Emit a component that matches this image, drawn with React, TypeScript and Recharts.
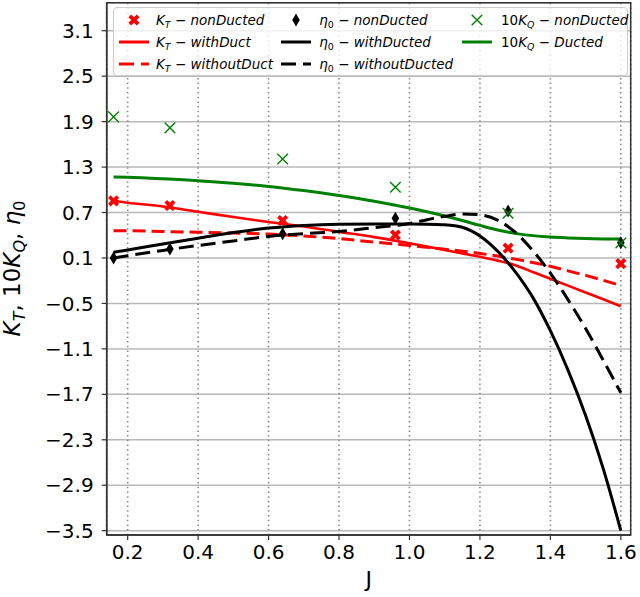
import React from "react";
import {
  ComposedChart,
  Line,
  Scatter,
  XAxis,
  YAxis,
  CartesianGrid,
  ReferenceArea,
  Label,
} from "recharts";

// ---------- data ----------
const J_CURVE = [0.16, 0.2, 0.3, 0.4, 0.5, 0.6, 0.7, 0.8, 0.9, 1.0, 1.05, 1.1, 1.15, 1.2, 1.25, 1.3, 1.35, 1.4, 1.45, 1.5, 1.55, 1.6];
const KT_WITH_DUCT = [0.855, 0.83, 0.78, 0.71, 0.64, 0.575, 0.515, 0.445, 0.375, 0.295, 0.25, 0.205, 0.16, 0.115, 0.065, 0.005, -0.085, -0.175, -0.265, -0.355, -0.445, -0.537];
const KT_WITHOUT_DUCT = [0.46, 0.46, 0.45, 0.44, 0.43, 0.415, 0.39, 0.355, 0.31, 0.265, 0.24, 0.215, 0.19, 0.16, 0.125, 0.085, 0.04, -0.01, -0.07, -0.13, -0.195, -0.265];
const ETA_WITH_DUCT = [0.175, 0.205, 0.285, 0.36, 0.435, 0.495, 0.53, 0.545, 0.548, 0.548, 0.546, 0.538, 0.505, 0.39, 0.19, -0.08, -0.42, -0.86, -1.38, -1.98, -2.68, -3.5];
const ETA_WITHOUT_DUCT = [0.1, 0.13, 0.2, 0.265, 0.325, 0.385, 0.42, 0.45, 0.5, 0.555, 0.605, 0.65, 0.68, 0.67, 0.6, 0.44, 0.2, -0.1, -0.45, -0.83, -1.25, -1.68];
const KQ10_DUCTED = [1.17, 1.165, 1.145, 1.12, 1.085, 1.045, 0.99, 0.925, 0.85, 0.76, 0.71, 0.655, 0.595, 0.53, 0.47, 0.425, 0.395, 0.376, 0.365, 0.357, 0.352, 0.35];

const J_EXP = [0.16, 0.32, 0.64, 0.96, 1.28, 1.6];
const KT_NON_DUCTED = [0.854, 0.792, 0.595, 0.403, 0.23, 0.025];
const ETA_NON_DUCTED = [0.1, 0.218, 0.42, 0.626, 0.72, 0.3];
const KQ10_NON_DUCTED = [1.963, 1.818, 1.407, 1.034, 0.69, 0.297];

const X_TICKS = [0.2, 0.4, 0.6, 0.8, 1.0, 1.2, 1.4, 1.6];
const Y_TICKS = [-3.5, -2.9, -2.3, -1.7, -1.1, -0.5, 0.1, 0.7, 1.3, 1.9, 2.5, 3.1];
const X_MIN = 0.1405;
const X_MAX = 1.628;
const Y_MIN = -3.557;
const Y_MAX = 3.47;

const toRows = (xs: number[], ys: number[]) => xs.map((J, i) => ({ J, v: ys[i] }));

const ktWith = toRows(J_CURVE, KT_WITH_DUCT);
const ktWithout = toRows(J_CURVE, KT_WITHOUT_DUCT);
const etaWith = toRows(J_CURVE, ETA_WITH_DUCT);
const etaWithout = toRows(J_CURVE, ETA_WITHOUT_DUCT);
const kqDucted = toRows(J_CURVE, KQ10_DUCTED);
const ktNon = toRows(J_EXP, KT_NON_DUCTED);
const etaNon = toRows(J_EXP, ETA_NON_DUCTED);
const kqNon = toRows(J_EXP, KQ10_NON_DUCTED);

const RED = "#ff0000";
const GREEN = "#008000";
const BLACK = "#000000";
const FONT = "'DejaVu Sans', sans-serif";

// ---------- marker shapes ----------
const xPath = (cx: number, cy: number, s: number, w: number) => {
  const a = w * 0.7071;
  const P: [number, number][] = [
    [0, -2 * a],
    [s - a, -s - a],
    [s + a, -s + a],
    [2 * a, 0],
    [s + a, s - a],
    [s - a, s + a],
    [0, 2 * a],
    [-s + a, s + a],
    [-s - a, s - a],
    [-2 * a, 0],
    [-s - a, -s + a],
    [-s + a, -s - a],
  ];
  return "M" + P.map(([x, y]) => `${(cx + x).toFixed(2)},${(cy + y).toFixed(2)}`).join("L") + "Z";
};

const RedX = (props: any) => {
  const { cx, cy } = props;
  if (cx == null || cy == null) return null;
  return <path d={xPath(cx, cy, 4.2, 1.9)} fill={RED} stroke="none" />;
};

const Diamond = (props: any) => {
  const { cx, cy } = props;
  if (cx == null || cy == null) return null;
  const hw = 3.8;
  const hh = 6.5;
  return <path d={`M${cx},${cy - hh}L${cx + hw},${cy}L${cx},${cy + hh}L${cx - hw},${cy}Z`} fill={BLACK} />;
};

const GreenX = (props: any) => {
  const { cx, cy } = props;
  if (cx == null || cy == null) return null;
  const s = 5.3;
  return (
    <path
      d={`M${cx - s},${cy - s}L${cx + s},${cy + s}M${cx - s},${cy + s}L${cx + s},${cy - s}`}
      stroke={GREEN}
      strokeWidth={1.4}
      fill="none"
    />
  );
};

const fmtTick = (v: number) => v.toFixed(1).replace("-", "\u2212");

// ---------- legend ----------
const Sub = ({ children, upright }: { children: React.ReactNode; upright?: boolean }) => (
  <span style={{ fontSize: "70%", position: "relative", top: "0.3em", fontStyle: upright ? "normal" : "italic" }}>{children}</span>
);

const Handle = ({ kind, color }: { kind: string; color: string }) => (
  <svg width={30} height={16} style={{ display: "block" }}>
    {kind === "line" && <line x1={0} x2={30} y1={8} y2={8} stroke={color} strokeWidth={3} />}
    {kind === "dash" && <line x1={0} x2={30} y1={8} y2={8} stroke={color} strokeWidth={3} strokeDasharray="15 7" />}
    {kind === "X" && <RedX cx={15} cy={8} />}
    {kind === "d" && <Diamond cx={15} cy={8} />}
    {kind === "x" && <GreenX cx={15} cy={8} />}
  </svg>
);

const KT = () => (
  <>
    <i>K</i>
    <Sub>T</Sub>
  </>
);
const ETA = () => (
  <>
    <i>η</i>
    <Sub upright>0</Sub>
  </>
);
const KQ = () => (
  <>
    <span style={{ fontStyle: "normal" }}>10</span>
    <i>K</i>
    <Sub>Q</Sub>
  </>
);

const LEGEND_COLS = [5.6, 167.3, 348.3];
const LEGEND_TEXT = [42.3, 205.6, 387.3];
const LEGEND_ROWS = [12.6, 34, 56];

const legendItems = [
  { c: 0, r: 0, kind: "X", color: RED, label: <><KT /><i> − nonDucted</i></> },
  { c: 0, r: 1, kind: "line", color: RED, label: <><KT /><i> − withDuct</i></> },
  { c: 0, r: 2, kind: "dash", color: RED, label: <><KT /><i> − withoutDuct</i></> },
  { c: 1, r: 0, kind: "d", color: BLACK, label: <><ETA /><i> − nonDucted</i></> },
  { c: 1, r: 1, kind: "line", color: BLACK, label: <><ETA /><i> − withDucted</i></> },
  { c: 1, r: 2, kind: "dash", color: BLACK, label: <><ETA /><i> − withoutDucted</i></> },
  { c: 2, r: 0, kind: "x", color: GREEN, label: <><KQ /><i> − nonDucted</i></> },
  { c: 2, r: 1, kind: "line", color: GREEN, label: <><KQ /><i> − Ducted</i></> },
];

const LegendBox = () => (
  <div
    style={{
      position: "absolute",
      left: 112.7,
      top: 6.7,
      width: 515.6,
      height: 69.3,
      boxSizing: "border-box",
      border: "1px solid #cccccc",
      borderRadius: 4,
      background: "rgba(255,255,255,0.8)",
      fontFamily: FONT,
      fontSize: 13.5,
      color: "#000",
    }}
  >
    {legendItems.map((it, i) => (
      <React.Fragment key={i}>
        <div style={{ position: "absolute", left: LEGEND_COLS[it.c], top: LEGEND_ROWS[it.r] - 8 }}>
          <Handle kind={it.kind} color={it.color} />
        </div>
        <div
          style={{
            position: "absolute",
            left: LEGEND_TEXT[it.c],
            top: LEGEND_ROWS[it.r] - 9,
            height: 18,
            lineHeight: "18px",
            whiteSpace: "nowrap",
            fontStyle: "italic",
          }}
        >
          {it.label}
        </div>
      </React.Fragment>
    ))}
  </div>
);

// ---------- axis labels ----------
const YLabel = () => (
  <text
    transform="translate(20,268.5) rotate(-90)"
    textAnchor="middle"
    fontFamily={FONT}
    fontSize={23}
    fill="#000"
  >
    <tspan fontStyle="italic">K</tspan>
    <tspan fontStyle="italic" fontSize={16} dy={5}>T</tspan>
    <tspan dy={-5}>, 10</tspan>
    <tspan fontStyle="italic">K</tspan>
    <tspan fontStyle="italic" fontSize={16} dy={5}>Q</tspan>
    <tspan dy={-5}>, </tspan>
    <tspan fontStyle="italic">η</tspan>
    <tspan fontSize={16} dy={5}>0</tspan>
  </text>
);

const XLabel = () => (
  <text x={368.7} y={587} textAnchor="middle" fontFamily={FONT} fontSize={22} fill="#000">
    J
  </text>
);

export default function App() {
  const tickStyle = { fill: "#000", fontSize: 20, fontFamily: FONT };
  return (
    <div style={{ position: "absolute", left: 0, top: 0, width: 640, height: 597, background: "#fff" }}>
      <ComposedChart width={640} height={597} margin={{ top: 2.7, right: 9.3, bottom: 0, left: 0 }}>
        <CartesianGrid horizontal={true} vertical={false} stroke="#b8b8b8" strokeWidth={1.5} />
        <CartesianGrid horizontal={false} vertical={true} stroke="#8a8a8a" strokeWidth={1.6} strokeDasharray="1.5 3.2" />
        <XAxis
          type="number"
          dataKey="J"
          domain={[X_MIN, X_MAX]}
          ticks={X_TICKS}
          interval={0}
          allowDataOverflow
          height={62}
          tickSize={5}
          tickMargin={5}
          tick={tickStyle}
          tickFormatter={fmtTick}
          axisLine={{ stroke: "#333", strokeWidth: 1.5 }}
          tickLine={{ stroke: "#333", strokeWidth: 1.2 }}
        >
          <Label content={() => <XLabel />} />
        </XAxis>
        <YAxis
          type="number"
          domain={[Y_MIN, Y_MAX]}
          ticks={Y_TICKS}
          interval={0}
          allowDataOverflow
          width={106.7}
          tickSize={5}
          tickMargin={8}
          tick={tickStyle}
          tickFormatter={fmtTick}
          axisLine={{ stroke: "#333", strokeWidth: 1.5 }}
          tickLine={{ stroke: "#333", strokeWidth: 1.2 }}
        >
          <Label content={() => <YLabel />} />
        </YAxis>
        <ReferenceArea x1={X_MIN} x2={X_MAX} y1={Y_MIN} y2={Y_MAX} fill="none" stroke="#333" strokeWidth={1.5} ifOverflow="visible" />

        <Line data={kqDucted} dataKey="v" type="monotone" stroke={GREEN} strokeWidth={3} dot={false} isAnimationActive={false} />
        <Line data={ktWith} dataKey="v" type="monotone" stroke={RED} strokeWidth={2.6} dot={false} isAnimationActive={false} />
        <Line data={ktWithout} dataKey="v" type="monotone" stroke={RED} strokeWidth={3} strokeDasharray="13 6" dot={false} isAnimationActive={false} />
        <Line data={etaWith} dataKey="v" type="monotone" stroke={BLACK} strokeWidth={3} dot={false} isAnimationActive={false} />
        <Line data={etaWithout} dataKey="v" type="monotone" stroke={BLACK} strokeWidth={3} strokeDasharray="15 7" dot={false} isAnimationActive={false} />

        <Scatter data={ktNon} dataKey="v" shape={RedX} isAnimationActive={false} />
        <Scatter data={etaNon} dataKey="v" shape={Diamond} isAnimationActive={false} />
        <Scatter data={kqNon} dataKey="v" shape={GreenX} isAnimationActive={false} />
      </ComposedChart>
      <LegendBox />
    </div>
  );
}
